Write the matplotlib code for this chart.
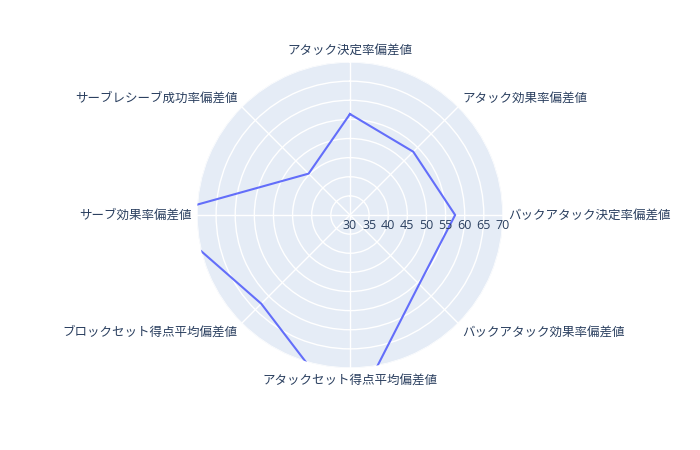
import numpy as np
import matplotlib
matplotlib.use("Agg")
import matplotlib.pyplot as plt

plt.rcParams['font.family'] = ['Open Sans', 'Noto Sans CJK JP', 'DejaVu Sans']

# categories, clockwise from the top
categories = [
    "アタック決定率偏差値",
    "アタック効果率偏差値",
    "バックアタック決定率偏差値",
    "バックアタック効果率偏差値",
    "アタックセット得点平均偏差値",
    "ブロックセット得点平均偏差値",
    "サーブ効果率偏差値",
    "サーブレシーブ成功率偏差値",
]
values = [56.4, 53.4, 57.5, 55.6, 83.5, 62.8, 79.7, 45.3]
r_ticks = [30, 35, 40, 45, 50, 55, 60, 65, 70]

text_color = "#2a3f5f"
px = 0.75  # points per pixel at dpi 100

fig = plt.figure(figsize=(7, 4.5), dpi=100)
ax = fig.add_axes([0.2814, 0.1822, 0.4371, 0.68], projection="polar")
ax.set_theta_offset(np.pi / 2)
ax.set_theta_direction(-1)
ax.set_facecolor("#E5ECF6")
ax.spines["polar"].set_visible(False)

theta = np.linspace(0, 2 * np.pi, len(categories), endpoint=False)
ax.set_ylim(30, 70)
ax.set_yticks(r_ticks)
ax.set_yticklabels([])
ax.set_xticks(theta)
ax.set_xticklabels([])
ax.grid(True, color="white", linewidth=1)

th = list(theta) + [theta[0]]
vals = values + [values[0]]
ax.plot(th, vals, color="#636efa", linewidth=1.5, zorder=3)

# radial tick labels below the radial axis (pointing right)
for r in r_ticks:
    ax.annotate(str(r), xy=(np.pi / 2, r), xytext=(0, -10 * px),
                textcoords="offset points", ha="center", va="center",
                fontsize=9, color=text_color, annotation_clip=False)

# category labels around the edge
label_pos = [
    ((0, 5), "center", "bottom"),
    ((4, 2), "left", "bottom"),
    ((5, 0), "left", "center"),
    ((4, -2), "left", "top"),
    ((0, -5), "center", "top"),
    ((-4, -2), "right", "top"),
    ((-5, 0), "right", "center"),
    ((-4, 2), "right", "bottom"),
]
for t, lab, (off, ha, va) in zip(theta, categories, label_pos):
    ax.annotate(lab, xy=(t, 70), xytext=(off[0] * px, off[1] * px),
                textcoords="offset points", ha=ha, va=va,
                fontsize=9, color=text_color, annotation_clip=False)

fig.savefig("out.png", dpi=100, facecolor="white")
